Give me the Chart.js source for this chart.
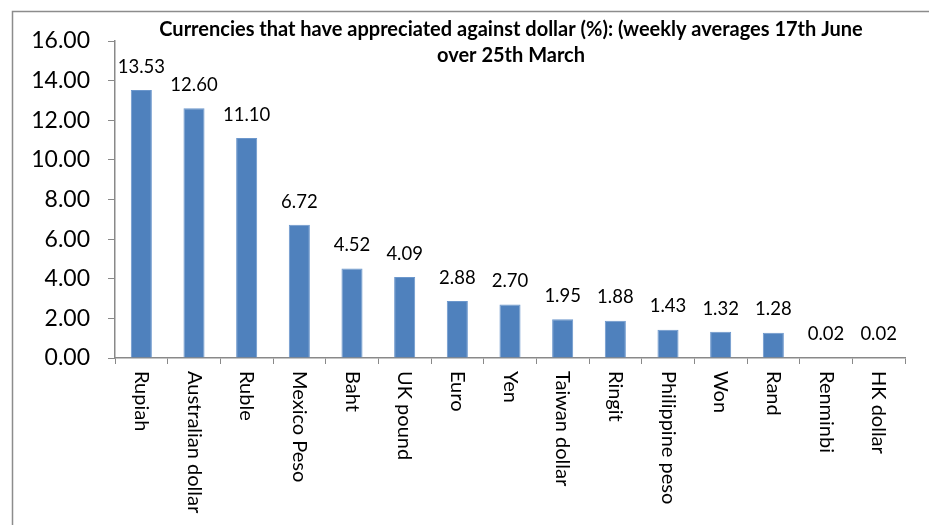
<!DOCTYPE html>
<html>
<head>
<meta charset="utf-8">
<script src="https://cdn.jsdelivr.net/npm/chart.js@4"></script>
<style>
html,body{margin:0;padding:0;background:#fff;}
#c{display:block;}
</style>
</head>
<body>
<canvas id="c" width="929" height="525"></canvas>
<script>
const categories = ["Rupiah","Australian dollar","Ruble","Mexico Peso","Baht","UK pound","Euro","Yen","Taiwan dollar","Ringit","Philippine peso","Won","Rand","Renminbi","HK dollar"];
const appreciation = [13.53,12.60,11.10,6.72,4.52,4.09,2.88,2.70,1.95,1.88,1.43,1.32,1.28,0.02,0.02];
const titleLines = ["Currencies that have appreciated against dollar (%): (weekly averages 17th June","over 25th March"];
const yTicks = {min:0, max:16, step:2};

const FONT = "Lato, 'Liberation Sans', sans-serif";
const AXIS = "#898989";

const extras = {
  id: 'extras',
  beforeDraw(chart){
    const ctx = chart.ctx;
    ctx.save();
    ctx.strokeStyle = "#8c8c8c";
    ctx.lineWidth = 1.5;
    ctx.beginPath();
    ctx.moveTo(12.5, 525);
    ctx.lineTo(12.5, 11.5);
    ctx.lineTo(929, 11.5);
    ctx.stroke();
    ctx.restore();
  },
  afterDraw(chart){
    const ctx = chart.ctx;
    const xs = chart.scales.x;
    const meta = chart.getDatasetMeta(0);
    ctx.save();
    // title
    ctx.fillStyle = "#000";
    ctx.font = "bold 20px " + FONT;
    ctx.textAlign = "center";
    ctx.textBaseline = "middle";
    ctx.fillText(titleLines[0], 511, 30);
    ctx.fillText(titleLines[1], 511, 56);
    // data labels
    ctx.font = "18.5px " + FONT;
    ctx.textBaseline = "bottom";
    meta.data.forEach((bar, i) => {
      ctx.fillText(appreciation[i].toFixed(2), bar.x, bar.y - 14);
    });
    // category labels rotated clockwise
    ctx.font = "20px " + FONT;
    ctx.textAlign = "left";
    ctx.textBaseline = "middle";
    categories.forEach((lab, i) => {
      const x = xs.getPixelForValue(i);
      ctx.save();
      ctx.translate(x, 371);
      ctx.rotate(Math.PI / 2);
      ctx.fillText(lab, 0, 0);
      ctx.restore();
    });
    ctx.restore();
  }
};

new Chart(document.getElementById('c'), {
  type: 'bar',
  data: {
    labels: categories,
    datasets: [{
      data: appreciation,
      backgroundColor: "#4F81BD",
      borderColor: "#6C97CC",
      borderWidth: 1,
      barPercentage: 0.4,
      categoryPercentage: 1.0
    }]
  },
  options: {
    responsive: false,
    animation: false,
    devicePixelRatio: 1,
    layout: { padding: { top: 41, right: 24, bottom: 0, left: 0 } },
    plugins: { legend: { display: false }, tooltip: { enabled: false }, title: { display: false } },
    scales: {
      x: {
        offset: true,
        grid: { display: true, drawOnChartArea: false, drawTicks: true, tickLength: 6, color: AXIS, offset: true },
        border: { display: true, color: AXIS, width: 1.5 },
        ticks: { display: false },
        afterFit(scale){ scale.height = 167; }
      },
      y: {
        min: yTicks.min, max: yTicks.max,
        grid: { display: true, drawOnChartArea: false, drawTicks: true, tickLength: 7, color: AXIS },
        border: { display: true, color: AXIS, width: 1.5 },
        ticks: {
          stepSize: yTicks.step,
          padding: 18,
          color: "#000",
          font: { family: FONT, size: 23 },
          callback: v => Number(v).toFixed(2)
        },
        afterFit(scale){ scale.width = 115; }
      }
    }
  },
  plugins: [extras]
});
</script>
</body>
</html>
